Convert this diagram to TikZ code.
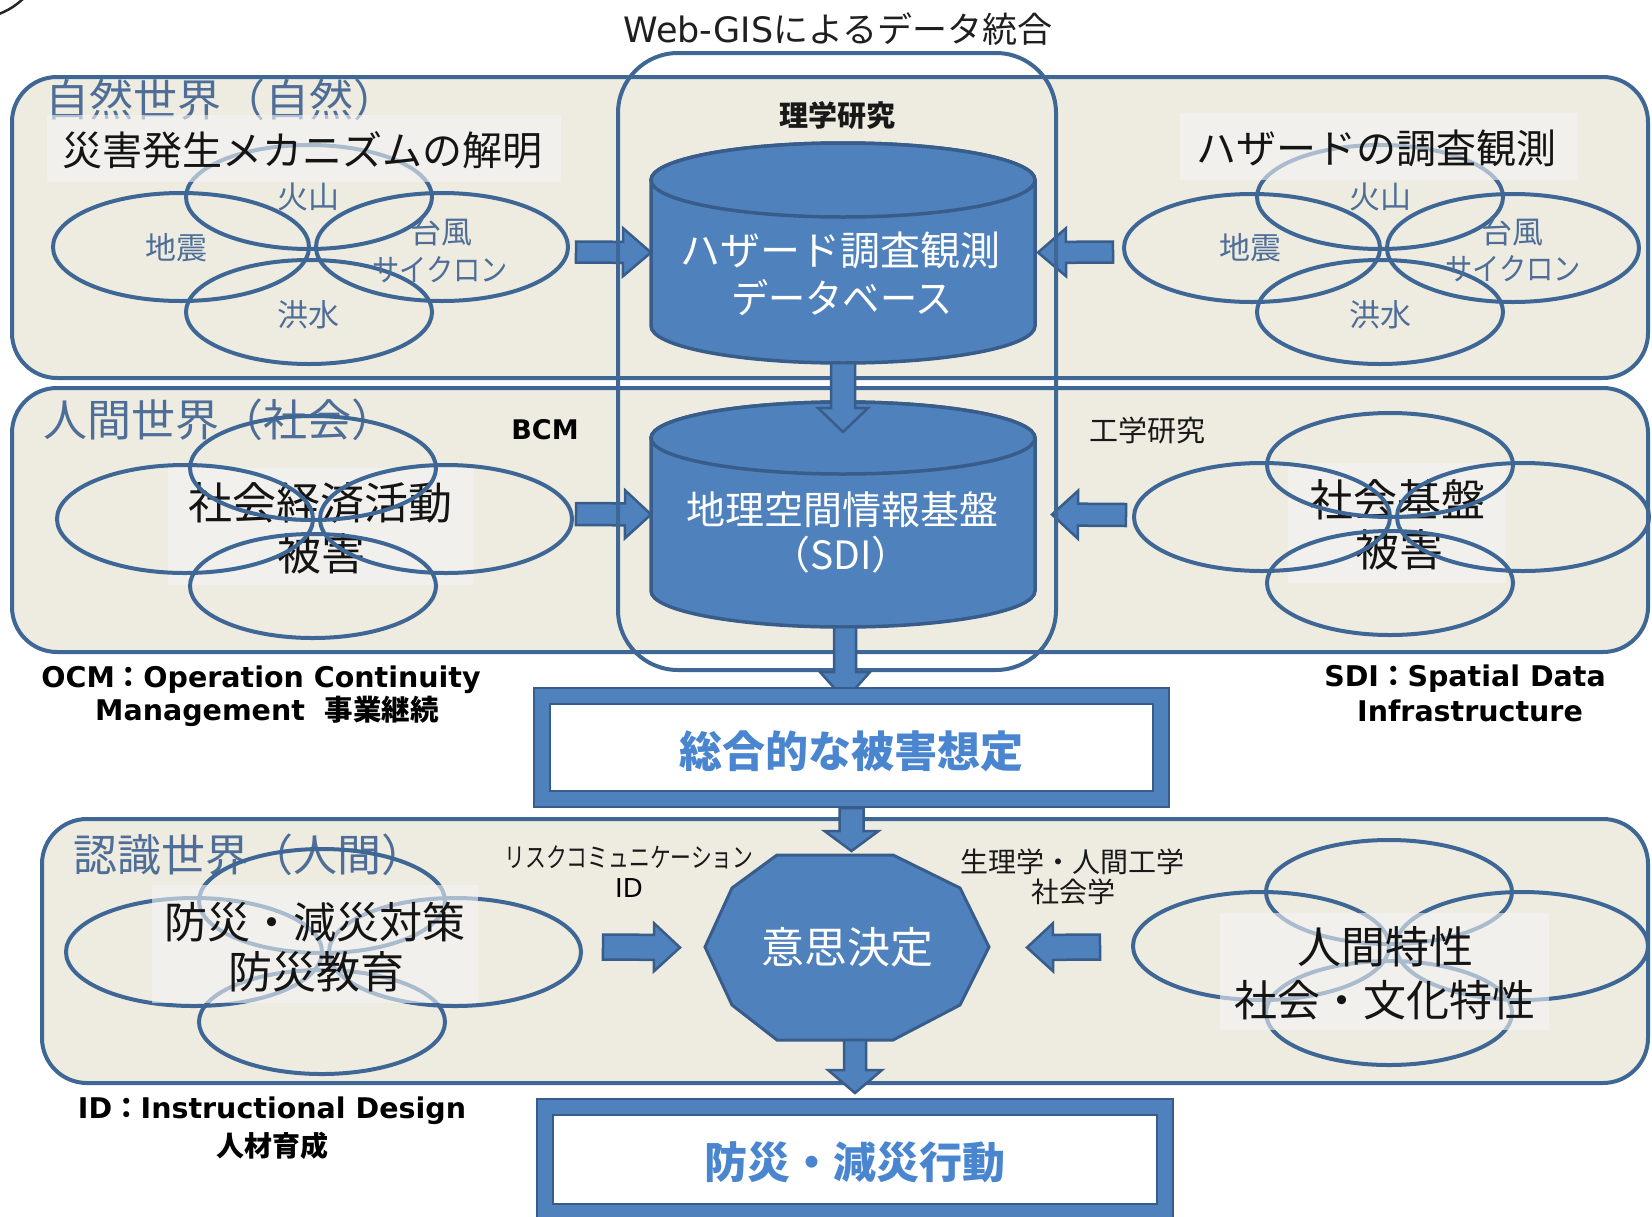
\documentclass[tikz,border=0pt]{standalone}
\usepackage{fontspec}
\usepackage{graphicx}
\usetikzlibrary{calc}
\setmainfont{DejaVu Sans}
\newfontfamily\jp{Noto Sans CJK JP}
\newcommand\fsz[1]{\fontsize{#1}{#1}\selectfont}
\definecolor{pfill}{HTML}{EEECE1}
\definecolor{pline}{HTML}{3F6795}
\definecolor{ttlc}{HTML}{4E6E98}
\definecolor{accent}{HTML}{4F81BD}
\definecolor{adark}{HTML}{385D8A}
\definecolor{boxtxt}{HTML}{4A86D0}
\definecolor{lbox}{HTML}{F4F4F4}
\newcommand\petals[4]{%
 \draw[pet] (#1-128,#3) ellipse[x radius=128,y radius=54];
 \draw[pet] (#1+133,#3) ellipse[x radius=126,y radius=54];
 \draw[pet] (#1,#2) ellipse[x radius=123,y radius=52];
 \draw[pet] (#1,#4) ellipse[x radius=123,y radius=52];}
% block arrow from #1 to #2; half shaft #3, half head #4, head length #5
\newcommand\barrow[5]{\draw[barr] ($(#1)!#3!90:(#2)$) -- ($(#2)!#5!(#1)!#3!-90:(#1)$) -- ($(#2)!#5!(#1)!#4!-90:(#1)$) -- (#2) -- ($(#2)!#5!(#1)!#4!90:(#1)$) -- ($(#2)!#5!(#1)!#3!90:(#1)$) -- ($(#1)!#3!-90:(#2)$) -- cycle;}
\begin{document}
\begin{tikzpicture}[x=1pt,y=-1pt,
  panel/.style={draw=pline,fill=pfill,line width=4,rounded corners=45,inner sep=0,outer sep=0},
  pet/.style={draw=pline,line width=4},
  lightbox/.style={fill=lbox,fill opacity=0.6,inner sep=0,outer sep=0},
  ttl/.style={text=ttlc,font=\jp\fsz{44},inner sep=0,anchor=west},
  lbl/.style={text=ttlc,font=\jp\fsz{31},inner sep=0},
  btxt/.style={text=black!92,font=\jp\fsz{40},inner sep=0},
  btxtb/.style={text=black!92,font=\jp\fsz{44},inner sep=0},
  wtxt/.style={text=white,font=\jp\fsz{40},inner sep=0},
  note/.style={text=black!90,font=\jp\fsz{28},inner sep=0},
  bnote/.style={text=black,font=\bfseries\fsz{28.5},inner sep=0},
  cyl/.style={fill=accent,draw=adark,line width=3.5},
  barr/.style={fill=accent,draw=adark,line width=2.5,line join=miter},
  bigbox/.style={draw=adark,line width=2,double=accent,double distance=14,fill=white,inner sep=0,outer sep=0},
  gis/.style={draw=pline,line width=4,rounded corners=60,inner sep=0,outer sep=0},
  anchorbox/.style={inner sep=0,outer sep=0}]
\path[use as bounding box,fill=white] (0,0) rectangle (1652,1216);
\clip (0,0) rectangle (1652,1216);
\draw[line width=2.5,draw=black!85] (-4,15) .. controls (8,11) and (17,5) .. (26,-4);
% title
\node[font=\fsz{35},text=black!88,inner sep=0] (webgis) at (838,29) {Web-GIS{\jp によるデータ統合}};
% panels
\node[panel,minimum width=1636,minimum height=301] (p1) at (830,227.5) {};
\node[panel,minimum width=1636,minimum height=264] (p2) at (830,520) {};
\node[panel,minimum width=1606,minimum height=264] (p3) at (845,951) {};
\node[ttl] (t1) at (45,100) {自然世界（自然）};
\node[ttl] (t2) at (43,420) {人間世界（社会）};
\node[ttl] (t3) at (73,855) {認識世界（人間）};
% panel 1
\petals{309}{197}{247}{312}
\petals{1380}{197}{248}{312}
\node[lightbox,minimum width=514,minimum height=67] (lb1) at (304,148.5) {};
\node[lightbox,minimum width=398,minimum height=67] (lb2) at (1379,146.5) {};
\node[btxt] (bt1) at (302,150) {災害発生メカニズムの解明};
\node[btxt] (bt2) at (1376,148) {ハザードの調査観測};
\node[lbl] (l1a) at (308,197) {火山};
\node[lbl] (l1b) at (176,248) {地震};
\node[lbl] (l1c) at (441,232) {台風};
\node[lbl] (l1d) at (440,270) {\scalebox{0.88}[1]{サイクロン}};
\node[lbl] (l1e) at (308,315) {洪水};
\node[lbl] (l2a) at (1380,197) {火山};
\node[lbl] (l2b) at (1250,248) {地震};
\node[lbl] (l2c) at (1512,232) {台風};
\node[lbl] (l2d) at (1513,269) {\scalebox{0.88}[1]{サイクロン}};
\node[lbl] (l2e) at (1380,315) {洪水};
% panel 2
\node[lightbox,minimum width=306,minimum height=117] (lb3) at (321,526.5) {};
\node[lightbox,minimum width=218,minimum height=120] (lb4) at (1397,523) {};
\node[btxtb] (bt3a) at (320,503) {社会経済活動};
\node[btxtb] (bt3b) at (321,554) {被害};
\node[btxtb] (bt4a) at (1397,500) {社会基盤};
\node[btxtb] (bt4b) at (1399,550) {被害};
\petals{313}{468}{519}{586}
\petals{1390}{465}{517}{583}
\node[font=\bfseries\fsz{27},inner sep=0] (bcm) at (545,430) {BCM};
\node[note,font=\jp\fsz{29}] (kogaku) at (1147,430) {工学研究};
% panel 3
\petals{322}{901}{952}{1022}
\petals{1389}{892}{946}{1013}
\node[lightbox,minimum width=326,minimum height=118] (lb5) at (315,944) {};
\node[lightbox,minimum width=329,minimum height=117] (lb6) at (1384.5,971.5) {};
\node[btxtb,font=\jp\fsz{43}] (bt5a) at (315,922) {防災・減災対策};
\node[btxtb] (bt5b) at (316,972) {防災教育};
\node[btxtb] (bt6a) at (1385,947) {人間特性};
\node[btxtb,font=\jp\fsz{43}] (bt6b) at (1385,1000) {社会・文化特性};
\node[note,font=\jp\fsz{27}] (riskcom) at (629,857) {\scalebox{0.77}[1]{リスクコミュニケーション}};
\node[font=\fsz{26},inner sep=0] (idl) at (629,888) {ID};
\node[note] (seiri) at (1072,862) {生理学・人間工学};
\node[note] (shakai) at (1073,892) {社会学};
% notes outside panels
\node[bnote] (ocm1) at (261,680) {OCM{\jp ：}Operation Continuity};
\node[bnote] (ocm2) at (267,711) {Management\ \ {\jp 事業継続}};
\node[bnote] (sdi1) at (1465,679) {SDI{\jp ：}Spatial Data};
\node[bnote] (sdi2) at (1470,711) {Infrastructure};
\node[bnote] (id1) at (272,1111) {ID{\jp ：}Instructional Design};
\node[bnote,font=\jp\bfseries\fsz{28}] (id2) at (272,1146) {人材育成};
% central nodes (anchors)
\node[anchorbox,minimum width=384,minimum height=221] (cyl1) at (843,252.5) {};
\node[anchorbox,minimum width=384,minimum height=225] (cyl2) at (843,514.5) {};
\coordinate (a1s) at (576,252);
\coordinate (a2s) at (1113,252);
\coordinate (a2e) at ([xshift=3pt]cyl1.east);
\coordinate (a4s) at (576,514);
\coordinate (a5s) at (1126,515);
\coordinate (a5e) at ([xshift=17pt]cyl2.east);
\barrow{a1s}{cyl1.west}{10.5pt}{24pt}{28pt}
\barrow{a2s}{a2e}{10.5pt}{24pt}{28pt}
\barrow{a4s}{cyl2.west}{11pt}{24pt}{26pt}
\barrow{a5s}{a5e}{11pt}{24pt}{26pt}
% Web-GIS frame
\node[gis,minimum width=438,minimum height=617] (gis) at (837,361.5) {};
\node[note,font=\jp\bfseries\fsz{29}] (rigaku) at (837,116) {理学研究};
% cylinders
\path[cyl] (651,180) -- (651,326) arc[start angle=180,end angle=0,x radius=192,y radius=37] -- (1035,180) arc[start angle=0,end angle=-180,x radius=192,y radius=37] -- cycle;
\draw[cyl] (843,180) ellipse[x radius=192,y radius=37];
\path[cyl] (651,438) -- (651,591) arc[start angle=180,end angle=0,x radius=192,y radius=36] -- (1035,438) arc[start angle=0,end angle=-180,x radius=192,y radius=36] -- cycle;
\draw[cyl] (843,438) ellipse[x radius=192,y radius=36];
\node[wtxt] (c1a) at (840,250) {ハザード調査観測};
\node[wtxt] (c1b) at (842,298) {\scalebox{0.93}[1]{データベース}};
\node[wtxt,font=\jp\fsz{39}] (c2a) at (842,510) {地理空間情報基盤};
\node[wtxt,font=\jp\fsz{39}] (c2b) at (841,555) {（SDI）};
\coordinate (a3e) at ([yshift=-30pt]cyl2.north);
\barrow{cyl1.south}{a3e}{12pt}{25pt}{24pt}
% integrated damage estimate
\node[bigbox,minimum width=619,minimum height=103] (sogo) at (851.5,747.5) {};
\coordinate (a6s) at ([xshift=2pt]cyl2.south);
\coordinate (a6e) at ([xshift=-6.5pt,yshift=-4pt]sogo.north);
\barrow{a6s}{a6e}{11pt}{25pt}{28pt}
\node[bigbox,minimum width=619,minimum height=103] (sogo) at (851.5,747.5) {};
\node[text=boxtxt,font=\jp\bfseries\fsz{43},inner sep=0] (sogot) at (851,751) {総合的な被害想定};
% decision
\path[cyl,line width=3] (777,855) -- (893,855) -- (960,888) -- (989,947) -- (960,1005) -- (893,1040) -- (777,1040) -- (732,1005) -- (705,947) -- (732,888) -- cycle;
\node[anchorbox,minimum width=284,minimum height=185,text=white,font=\jp\fsz{43}] (dm) at (847,947.5) {意思決定};
\coordinate (a7s) at ([yshift=-9pt]sogo.south);
\coordinate (a7e) at ([xshift=4.5pt,yshift=4pt]dm.north);
\barrow{a7s}{a7e}{12pt}{27pt}{20pt}
\coordinate (a8s) at (603,947);
\coordinate (a8e) at ([xshift=-25pt]dm.west);
\coordinate (a9s) at (1100,947);
\coordinate (a9e) at ([xshift=38pt]dm.east);
\barrow{a8s}{a8e}{12.5pt}{24pt}{26pt}
\barrow{a9s}{a9e}{12.5pt}{24pt}{26pt}
% action
\node[bigbox,minimum width=620,minimum height=105] (b2) at (855,1159.5) {};
\node[text=boxtxt,font=\jp\bfseries\fsz{43},inner sep=0] (b2t) at (855,1162) {防災・減災行動};
\coordinate (a10s) at ([xshift=8pt]dm.south);
\coordinate (a10e) at ([yshift=14pt]b2.north);
\barrow{a10s}{a10e}{11pt}{27pt}{23pt}
\end{tikzpicture}
\end{document}
